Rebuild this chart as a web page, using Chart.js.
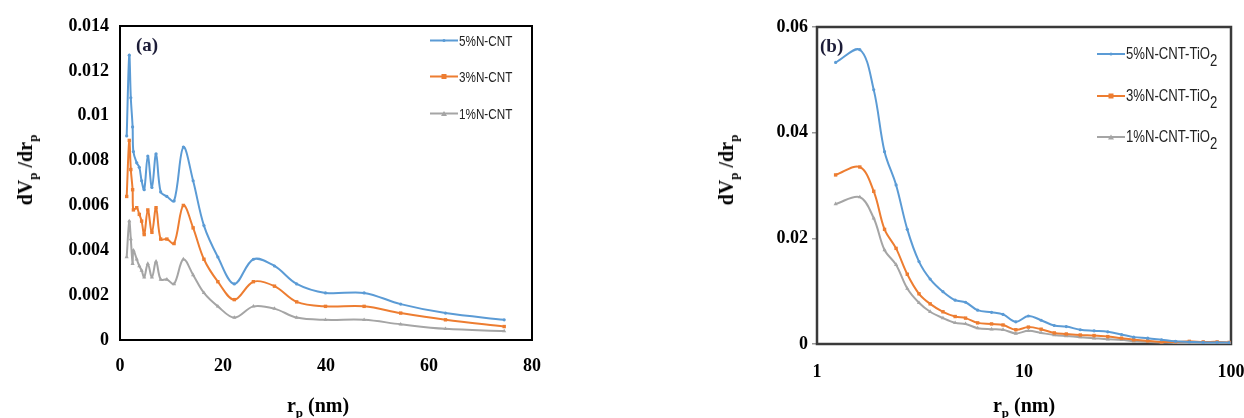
<!DOCTYPE html>
<html><head><meta charset="utf-8">
<script src="https://cdn.jsdelivr.net/npm/chart.js@4.4.0/dist/chart.umd.min.js"></script>
<style>
html,body{margin:0;padding:0;background:#fff;width:1244px;height:418px;overflow:hidden;position:relative;}
.cw{position:absolute;top:0;height:418px;}
#wa{left:0;width:560px;}
#wb{left:700px;width:544px;}
.t{position:absolute;font-family:"Liberation Serif","Times New Roman",serif;font-weight:bold;font-size:20px;color:#000;white-space:nowrap;transform:translate(-50%,-50%);line-height:1;}
.t sub{font-size:13px;vertical-align:-5px;line-height:0;}
.yt{transform:translate(-50%,-50%) rotate(-90deg);}
.pn{position:absolute;font-family:"Liberation Serif","Times New Roman",serif;font-weight:bold;font-size:19px;color:#1c1c38;transform:translateY(-50%);line-height:1;}
.row{position:absolute;display:flex;align-items:center;white-space:nowrap;transform:translateY(-50%);font-family:"Liberation Sans Narrow","Liberation Sans",sans-serif;color:#222;line-height:1;}
.ln{width:28px;height:2px;position:relative;margin-right:1px;flex:none;}
.mk{position:absolute;left:50%;top:50%;transform:translate(-50%,-50%);}
.tx{display:inline-block;transform-origin:0 50%;}
.row sub{font-size:1em;vertical-align:-7px;line-height:0;}
</style>
</head><body>
<div class="cw" id="wa"><canvas id="ca"></canvas></div>
<div class="cw" id="wb"><canvas id="cb"></canvas></div>
<div class="t yt" style="left:25px;top:170px;">dV<sub>p</sub> /dr<sub>p</sub></div>
<div class="t" style="left:318px;top:405px;">r<sub>p</sub> (nm)</div>
<div class="t yt" style="left:726px;top:170px;">dV<sub>p</sub> /dr<sub>p</sub></div>
<div class="t" style="left:1024px;top:405px;">r<sub>p</sub> (nm)</div>
<div class="pn" style="left:136px;top:44px;">(a)</div>
<div class="pn" style="left:820px;top:45px;">(b)</div>
<script>
// ---------- Panel (a) data ----------
const seriesNamesA = ['5%N-CNT', '3%N-CNT', '1%N-CNT'];
const poreRadiusA = [1.3, 1.8, 2.1, 2.45, 2.6, 3.25, 3.75, 4.2, 4.7, 5.4, 6.2, 7.0, 7.9, 9.1, 10.5, 12.3, 14.2, 16.3, 19.0, 22.2, 25.9, 30.0, 34.3, 39.9, 47.4, 54.5, 63.2, 74.6];
const cnt5 = [0.0091, 0.0127, 0.0108, 0.0095, 0.0084, 0.0079, 0.0077, 0.0071, 0.0067, 0.0082, 0.0068, 0.0083, 0.0066, 0.0064, 0.0062, 0.0086, 0.0071, 0.0051, 0.0037, 0.0025, 0.0036, 0.0033, 0.0025, 0.0021, 0.0021, 0.0016, 0.0012, 0.0009];
const cnt3 = [0.0064, 0.0089, 0.0076, 0.0067, 0.0058, 0.0059, 0.0056, 0.0053, 0.0047, 0.0058, 0.0048, 0.0059, 0.0045, 0.0045, 0.0043, 0.0060, 0.0050, 0.0036, 0.0026, 0.0018, 0.0026, 0.0024, 0.0017, 0.0015, 0.0015, 0.0012, 0.0009, 0.0006];
const cnt1 = [0.0037, 0.0053, 0.0045, 0.0034, 0.0040, 0.0036, 0.0033, 0.0031, 0.0028, 0.0034, 0.0028, 0.0035, 0.0027, 0.0027, 0.0025, 0.0036, 0.0029, 0.0021, 0.0015, 0.0010, 0.0015, 0.0014, 0.0010, 0.0009, 0.0009, 0.0007, 0.0005, 0.0004];
const xTickValsA = [0, 20, 40, 60, 80];
const xTickLabelsA = ['0', '20', '40', '60', '80'];
const yTickValsA = [0, 0.002, 0.004, 0.006, 0.008, 0.01, 0.012, 0.014];
const yTickLabelsA = ['0', '0.002', '0.004', '0.006', '0.008', '0.01', '0.012', '0.014'];

// ---------- Panel (b) data ----------
const seriesNamesB = ['5%N-CNT-TiO2', '3%N-CNT-TiO2', '1%N-CNT-TiO2'];
const poreRadiusB = [1.23, 1.61, 1.88, 2.12, 2.41, 2.73, 3.11, 3.52, 4.06, 4.65, 5.22, 5.97, 6.97, 7.92, 9.13, 10.5, 12.1, 14.0, 16.0, 18.7, 21.8, 25.4, 29.6, 33.9, 39.6, 46.2, 53.9, 62.9, 73.4, 85.7, 98];
const tio5 = [0.0533, 0.0557, 0.0481, 0.0364, 0.0301, 0.0217, 0.0156, 0.0123, 0.0099, 0.0083, 0.0079, 0.0064, 0.0060, 0.0056, 0.0042, 0.0053, 0.0045, 0.0035, 0.0033, 0.0027, 0.0025, 0.0023, 0.0018, 0.0013, 0.0011, 0.0008, 0.0005, 0.0004, 0.0003, 0.0003, 0.00025];
const tio3 = [0.0320, 0.0335, 0.0289, 0.0217, 0.0181, 0.0132, 0.0095, 0.0076, 0.0061, 0.0052, 0.0049, 0.0040, 0.0038, 0.0036, 0.0027, 0.0032, 0.0028, 0.0021, 0.0019, 0.0017, 0.0016, 0.0014, 0.0011, 0.0008, 0.0006, 0.0004, 0.0004, 0.0005, 0.0004, 0.0004, 0.0003];
const tio1 = [0.0265, 0.0278, 0.0238, 0.0178, 0.0150, 0.0105, 0.0078, 0.0061, 0.0049, 0.0040, 0.0038, 0.0030, 0.0028, 0.0027, 0.0020, 0.0025, 0.0021, 0.0017, 0.0015, 0.0013, 0.0011, 0.0009, 0.0008, 0.0005, 0.0004, 0.0003, 0.0002, 0.0002, 0.0002, 0.0001, 0.0001];
const xTickValsB = [1, 10, 100];
const xTickLabelsB = ['1', '10', '100'];
const yTickValsB = [0, 0.02, 0.04, 0.06];
const yTickLabelsB = ['0', '0.02', '0.04', '0.06'];

// ---------- styles ----------
const colors = ['#5b9bd5', '#ed7d31', '#a5a5a5'];
const pointStyles = ['circle', 'rect', 'triangle'];
const pointRadii = [1.6, 2.4, 2.4];
const tickFont = {family: '"Liberation Serif","Times New Roman",serif', weight: 'bold', size: 18};

function pts(xs, ys) { return xs.map((x, i) => ({x: x, y: ys[i]})); }
function makeDatasets(names, xs, ys) {
  return names.map((n, i) => ({
    label: n.replace(/2$/, '\u2082'),
    data: pts(xs, ys[i]),
    borderColor: colors[i], backgroundColor: colors[i],
    pointBackgroundColor: colors[i], pointBorderColor: colors[i],
    pointStyle: pointStyles[i], pointRadius: pointRadii[i], pointBorderWidth: 0,
    borderWidth: 2, tension: 0.35, fill: false
  }));
}
const boxPlugin = {
  id: 'box',
  beforeDatasetsDraw(chart, args, opts) {
    const {ctx, chartArea: a} = chart;
    ctx.save(); ctx.strokeStyle = opts.color; ctx.lineWidth = opts.width;
    ctx.strokeRect(a.left, a.top, a.right - a.left, a.bottom - a.top);
    ctx.restore();
  }
};

function buildChart(id, cfg) {
  return new Chart(document.getElementById(id), {
    type: 'line',
    data: {datasets: cfg.datasets},
    plugins: [boxPlugin],
    options: {
      responsive: true, maintainAspectRatio: false, animation: false,
      layout: {padding: cfg.padding},
      plugins: {legend: {display: false}, tooltip: {enabled: false}, box: cfg.box},
      scales: {
        x: {
          type: cfg.xType, min: cfg.xMin, max: cfg.xMax,
          grid: {display: false, drawTicks: false}, border: {display: false},
          afterBuildTicks: s => { s.ticks = cfg.xTicks.map(v => ({value: v})); },
          ticks: {font: tickFont, color: '#000', padding: cfg.xPad, maxRotation: 0, autoSkip: false,
                  callback: (v, i) => cfg.xLabels[i]},
          afterFit: s => { s.height = cfg.xH; s.paddingLeft = 0; s.paddingRight = 0; }
        },
        y: {
          type: 'linear', min: cfg.yMin, max: cfg.yMax,
          grid: cfg.yGrid, border: {display: false},
          afterBuildTicks: s => { s.ticks = cfg.yTicks.map(v => ({value: v})); },
          ticks: {font: tickFont, color: '#000', padding: cfg.yPad, autoSkip: false,
                  callback: (v, i) => cfg.yLabels[i]},
          afterFit: s => { s.width = cfg.yW; s.paddingTop = 0; s.paddingBottom = 0; }
        }
      }
    }
  });
}

buildChart('ca', {
  datasets: makeDatasets(seriesNamesA, poreRadiusA, [cnt5, cnt3, cnt1]),
  padding: {left: 0, top: 26, right: 28, bottom: 0},
  box: {color: '#000', width: 2},
  xType: 'linear', xMin: 0, xMax: 80, xTicks: xTickValsA, xLabels: xTickLabelsA, xPad: 16, xH: 78,
  yMin: 0, yMax: 0.014, yTicks: yTickValsA, yLabels: yTickLabelsA, yPad: 11, yW: 120,
  yGrid: {display: false, drawTicks: false}
});
buildChart('cb', {
  datasets: makeDatasets(seriesNamesB, poreRadiusB, [tio5, tio3, tio1]),
  padding: {left: 0, top: 27, right: 13, bottom: 0},
  box: {color: '#3a3a3a', width: 2.5},
  xType: 'logarithmic', xMin: 1, xMax: 100, xTicks: xTickValsB, xLabels: xTickLabelsB, xPad: 18, xH: 74,
  yMin: 0, yMax: 0.06, yTicks: yTickValsB, yLabels: yTickLabelsB, yPad: 4, yW: 117,
  yGrid: {display: true, drawOnChartArea: false, drawTicks: true, tickLength: 5, color: '#999', lineWidth: 1.5}
});

// ---------- legends ----------
function legend(names, left, ys, fontSize, squeeze) {
  names.forEach((n, i) => {
    const row = document.createElement('div');
    row.className = 'row';
    row.style.left = left + 'px'; row.style.top = ys[i] + 'px'; row.style.fontSize = fontSize + 'px';
    const ln = document.createElement('div'); ln.className = 'ln'; ln.style.background = colors[i];
    const mk = document.createElement('div'); mk.className = 'mk';
    if (i === 0) { mk.style.cssText += 'width:3px;height:3px;border-radius:50%;background:' + colors[i]; }
    else if (i === 1) { mk.style.cssText += 'width:5px;height:5px;background:' + colors[i]; }
    else { mk.style.cssText += 'width:0;height:0;border-left:3px solid transparent;border-right:3px solid transparent;border-bottom:5px solid ' + colors[i]; }
    ln.appendChild(mk);
    const tx = document.createElement('span');
    tx.className = 'tx';
    tx.style.transform = 'scaleX(' + squeeze + ')';
    tx.innerHTML = n.replace(/2$/, '<sub>2</sub>');
    row.appendChild(ln); row.appendChild(tx);
    document.body.appendChild(row);
  });
}
legend(seriesNamesA, 430, [40, 76, 113], 15, 0.78);
legend(seriesNamesB, 1097, [54, 96, 137], 16, 0.82);
</script>
</body></html>
